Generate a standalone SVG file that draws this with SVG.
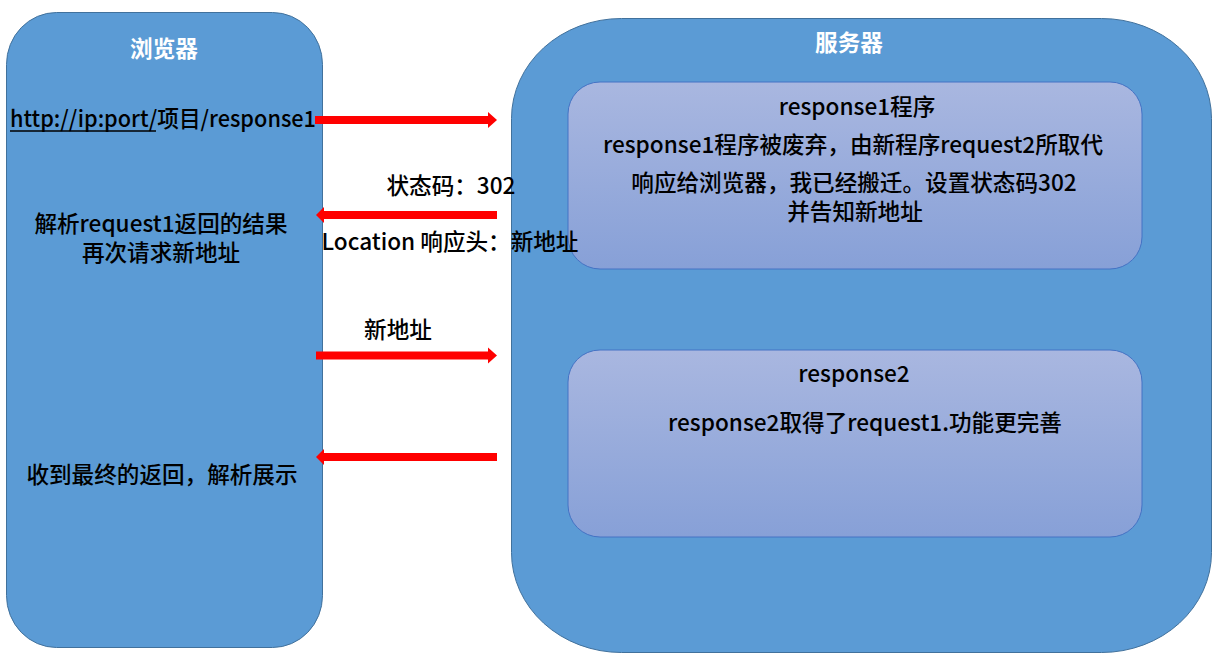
<svg xmlns="http://www.w3.org/2000/svg" width="1218" height="669" viewBox="0 0 1218 669">
<defs>
<linearGradient id="inner" x1="0" y1="0" x2="0" y2="1">
<stop offset="0" stop-color="#A9B7E0"/>
<stop offset="1" stop-color="#87A0D7"/>
</linearGradient>
<style>
.outer{fill:#5B9BD5;stroke:#41719C;stroke-width:1}
.inbox{fill:url(#inner);stroke:#4472C4;stroke-width:1}
.t{font-family:"Noto Sans CJK SC","Noto Sans",sans-serif;font-size:22.6px;font-weight:500;fill:#000}
.title{font-family:"Noto Sans CJK SC","Noto Sans",sans-serif;font-size:22.6px;font-weight:bold;fill:#fff}
.arrow{fill:#FF0000}
</style>
</defs>
<rect width="1218" height="669" fill="#fff"/>
<g id="browser">
<rect class="outer" x="6.5" y="12.5" width="316" height="635" rx="50" ry="52"/>
<text class="title" x="164" y="57" text-anchor="middle">浏览器</text>
<text class="t" x="10" y="127" textLength="306" lengthAdjust="spacingAndGlyphs">http://ip:port/项目/response1</text>
<line x1="10" y1="131" x2="156" y2="131" stroke="#000" stroke-width="1.3"/>
<text class="t" x="161" y="232" text-anchor="middle">解析request1返回的结果</text>
<text class="t" x="161" y="261" text-anchor="middle">再次请求新地址</text>
<text class="t" x="162" y="483" text-anchor="middle">收到最终的返回，解析展示</text>
</g>
<g id="server">
<rect class="outer" x="511.5" y="18.5" width="700" height="634" rx="110" ry="100"/>
<text class="title" x="849" y="51" text-anchor="middle">服务器</text>
</g>
<g id="response1">
<rect class="inbox" x="568" y="82" width="574" height="187" rx="32" ry="32"/>
<text class="t" x="857" y="115" text-anchor="middle">response1程序</text>
<text class="t" x="853" y="153" text-anchor="middle">response1程序被废弃，由新程序request2所取代</text>
<text class="t" x="854" y="191" text-anchor="middle">响应给浏览器，我已经搬迁。设置状态码302</text>
<text class="t" x="855" y="220" text-anchor="middle">并告知新地址</text>
</g>
<g id="response2">
<rect class="inbox" x="568" y="350" width="574" height="187" rx="32" ry="32"/>
<text class="t" x="854" y="382" text-anchor="middle">response2</text>
<text class="t" x="865" y="431" text-anchor="middle">response2取得了request1.功能更完善</text>
</g>
<g id="connectors">
<path class="arrow" d="M315,116 H488 V112 L497,120 L488,128 V124 H315 Z"/>
<path class="arrow" d="M497,211 H324 V207 L316,215 L324,223 V219 H497 Z"/>
<path class="arrow" d="M316,351.5 H488 V347.5 L497,355.5 L488,363.5 V359.5 H316 Z"/>
<path class="arrow" d="M497,453 H324 V449 L316,457 L324,465 V461 H497 Z"/>
<text class="t" x="451" y="194" text-anchor="middle">状态码：302</text>
<text class="t" x="450" y="250" text-anchor="middle">Location 响应头：新地址</text>
<text class="t" x="398" y="338" text-anchor="middle">新地址</text>
</g>
</svg>
